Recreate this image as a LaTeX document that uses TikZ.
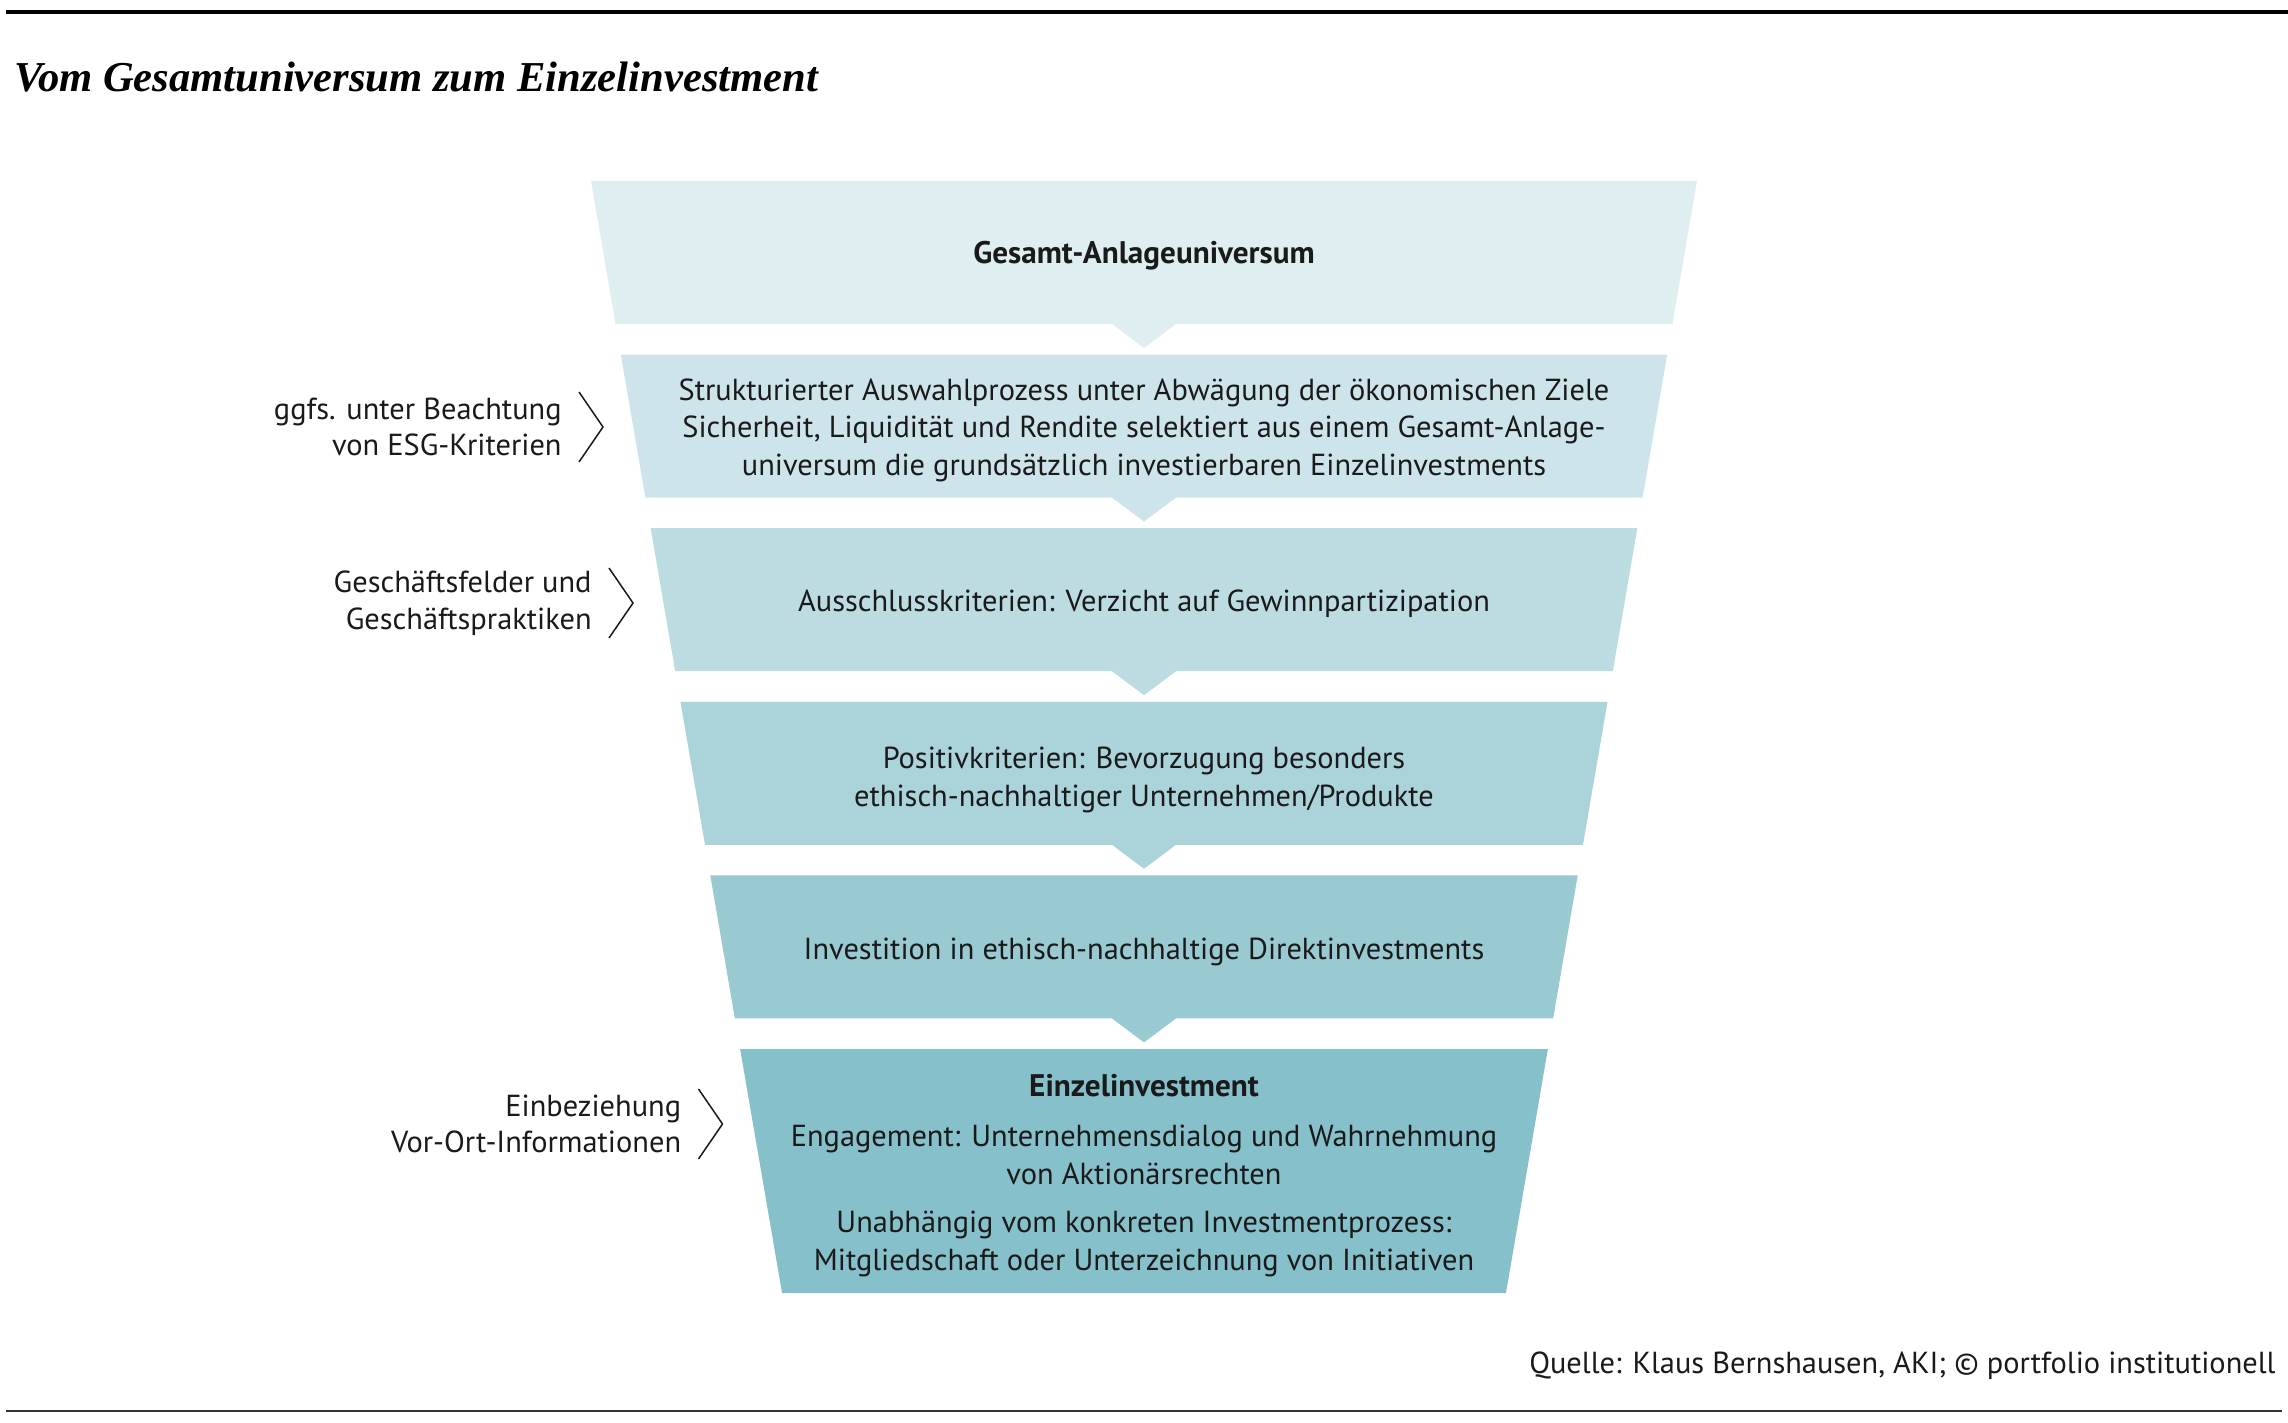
\documentclass[tikz,border=0pt]{standalone}
\usepackage{fontspec}
\newfontfamily\din{PT Sans}
\newfontfamily\titlefont{Liberation Serif}
\definecolor{bandA}{RGB}{222,238,241}
\definecolor{bandB}{RGB}{205,229,234}
\definecolor{bandC}{RGB}{188,220,226}
\definecolor{bandD}{RGB}{170,211,218}
\definecolor{bandE}{RGB}{153,202,210}
\definecolor{bandF}{RGB}{134,193,203}
\definecolor{ink}{RGB}{26,26,26}
\newcommand\funnelband[5]{% name, top, bottom, colour, notch depth
  \pgfmathsetmacro\hwt{553-0.1718*(#2-181)}
  \pgfmathsetmacro\hwb{553-0.1718*(#3-181)}
  \fill[#4] (1144-\hwt,#2) -- (1144+\hwt,#2) -- (1144+\hwb,#3) -- (1176,#3)
     -- (1144,#3+#5) -- (1112,#3) -- (1144-\hwb,#3) -- cycle;
  \coordinate (#1) at (1144,{(#2+#3)/2});
}
\begin{document}
\begin{tikzpicture}[x=0.5pt,y=-0.5pt,
  body/.style={font=\din\fontsize{15.2}{18.75}\selectfont, text=ink, align=center, inner sep=0pt},
  bodybold/.style={body, font=\din\bfseries\fontsize{15.6}{18.75}\selectfont},
  sidelabel/.style={font=\din\fontsize{15.2}{18.25}\selectfont, text=ink, align=right, inner sep=0pt, anchor=east},
  chev/.style={draw=ink, line width=0.75pt, line join=miter}]
\useasboundingbox (0,0) rectangle (2288,1423);
\fill[white] (0,0) rectangle (2288,1423);
% rules
\draw[line width=2pt, black] (6,12) -- (2288,12);
\draw[line width=0.8pt, black!80] (6,1411) -- (2282,1411);
% title
\node[anchor=base west, inner sep=0pt, font=\titlefont\fontsize{21.3}{26}\selectfont\itshape\bfseries] (title) at (14,92) {Vom Gesamtuniversum zum Einzelinvestment};
% funnel bands
\funnelband{b1}{181}{324}{bandA}{24}
\funnelband{b2}{354.6}{497.6}{bandB}{24}
\funnelband{b3}{528.2}{671.2}{bandC}{24}
\funnelband{b4}{701.8}{844.8}{bandD}{24}
\funnelband{b5}{875.4}{1018.4}{bandE}{24}
\funnelband{b6}{1049}{1293}{bandF}{0}
% band texts
\node[bodybold] (t1) at (1144,256) {Gesamt-Anlageuniversum};
\node[body] (t2) at (1144,430) {Strukturierter Auswahlprozess unter Abwägung der ökonomischen Ziele\\Sicherheit, Liquidität und Rendite selektiert aus einem Gesamt-Anlage-\\universum die grundsätzlich investierbaren Einzelinvestments};
\node[body] (t3) at (1144,604) {Ausschlusskriterien: Verzicht auf Gewinnpartizipation};
\node[body] (t4) at (1144,780) {Positivkriterien: Bevorzugung besonders\\ethisch-nachhaltiger Unternehmen/Produkte};
\node[body] (t5) at (1144,952) {Investition in ethisch-nachhaltige Direktinvestments};
\node[bodybold] (t6a) at (1144,1086) {Einzelinvestment};
\node[body] (t6b) at (1144,1155) {Engagement: Unternehmensdialog und Wahrnehmung\\von Aktionärsrechten};
\node[body] (t6c) at (1144,1244) {Unabhängig vom konkreten Investmentprozess:\\Mitgliedschaft oder Unterzeichnung von Initiativen};
% side labels
\node[sidelabel] (l1) at (562,427) {ggfs. unter Beachtung\\von ESG-Kriterien};
\node[sidelabel] (l2) at (592,603) {Geschäftsfelder und\\Geschäftspraktiken};
\node[sidelabel] (l3) at (681.5,1124) {Einbeziehung\\Vor-Ort-Informationen};
\draw[chev] (l1.east) ++(17,-35) -- ++(24,35) -- ++(-24,35);
\draw[chev] (l2.east) ++(17,-35) -- ++(24,35) -- ++(-24,35);
\draw[chev] (l3.east) ++(17,-35) -- ++(24,35) -- ++(-24,35);
% source
\node[anchor=base east, inner sep=0pt, font=\din\fontsize{15.2}{18}\selectfont, text=ink] (src) at (2276,1373) {Quelle: Klaus Bernshausen, AKI; © portfolio institutionell};
\end{tikzpicture}
\end{document}
